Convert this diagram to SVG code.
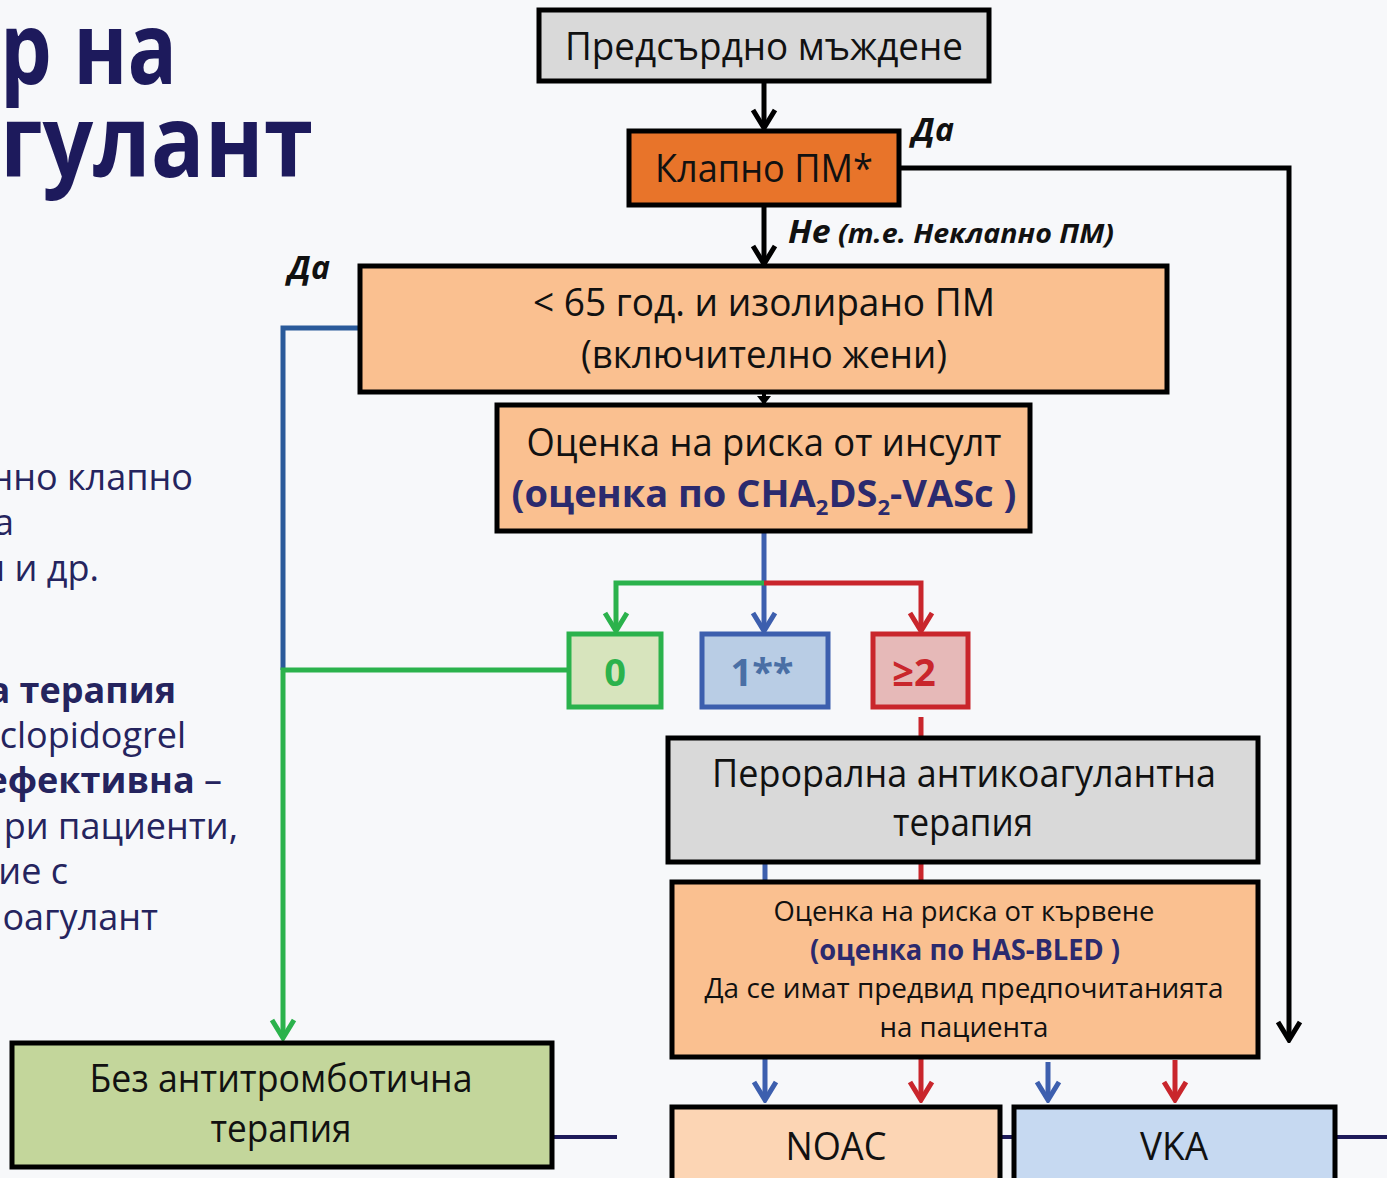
<svg xmlns="http://www.w3.org/2000/svg" width="1387" height="1178" viewBox="0 0 1387 1178">
<style>
.bx{stroke:#000;stroke-width:5}
.t{font-family:"Open Sans","Noto Sans","DejaVu Sans",sans-serif;font-size:38px;fill:#111;text-anchor:middle}
.ts{font-family:"Open Sans","Noto Sans","DejaVu Sans",sans-serif;font-size:28px;fill:#111;text-anchor:middle}
.nv{fill:#2b2a6e;font-weight:bold}
.lbl{font-family:"Open Sans","Noto Sans","DejaVu Sans",sans-serif;font-weight:bold;font-style:italic;fill:#111}
.side{font-family:"Open Sans","Noto Sans","DejaVu Sans",sans-serif;font-size:36px;fill:#25245e;text-anchor:end}
.title{font-family:"Open Sans","Noto Sans","DejaVu Sans",sans-serif;font-size:100px;font-weight:bold;fill:#1d1a5c}
.k{stroke:#000;stroke-width:5;fill:none}
.g{stroke:#2bb24c;stroke-width:5;fill:none}
.b{stroke:#3d5fae;stroke-width:5;fill:none}
.b2{stroke:#2a5a9a;stroke-width:5;fill:none}
.r{stroke:#c9262c;stroke-width:5;fill:none}
.nvl{stroke:#1e1b5a;stroke-width:4;fill:none}
</style>
<defs>
<marker id="ak" markerUnits="userSpaceOnUse" markerWidth="24" markerHeight="28" viewBox="0 0 24 28" refX="21" refY="14" orient="auto"><path d="M3,3 L21,14 L3,25" fill="none" stroke="#000" stroke-width="5"/></marker>
<marker id="ag" markerUnits="userSpaceOnUse" markerWidth="24" markerHeight="28" viewBox="0 0 24 28" refX="21" refY="14" orient="auto"><path d="M3,3 L21,14 L3,25" fill="none" stroke="#2bb24c" stroke-width="5"/></marker>
<marker id="ab" markerUnits="userSpaceOnUse" markerWidth="24" markerHeight="28" viewBox="0 0 24 28" refX="21" refY="14" orient="auto"><path d="M3,3 L21,14 L3,25" fill="none" stroke="#3d5fae" stroke-width="5"/></marker>
<marker id="ar" markerUnits="userSpaceOnUse" markerWidth="24" markerHeight="28" viewBox="0 0 24 28" refX="21" refY="14" orient="auto"><path d="M3,3 L21,14 L3,25" fill="none" stroke="#c9262c" stroke-width="5"/></marker>
</defs>
<rect width="1387" height="1178" fill="#f7f8fa"/>

<g id="side-text">
<text class="title" x="0" y="84" textLength="177" lengthAdjust="spacingAndGlyphs">р на</text>
<text class="title" x="0" y="177" textLength="313" lengthAdjust="spacingAndGlyphs">гулант</text>
<text class="side" x="193" y="490">нно клапно</text>
<text class="side" x="14" y="535">а</text>
<text class="side" x="99" y="581">и и др.</text>
<text class="side" x="176" y="703" font-weight="bold">а терапия</text>
<text class="side" x="186" y="748">clopidogrel</text>
<text class="side" x="222" y="793"><tspan font-weight="bold">ефективна</tspan> –</text>
<text class="side" x="238" y="839">ри пациенти,</text>
<text class="side" x="68" y="884">ие с</text>
<text class="side" x="158" y="930">оагулант</text>
</g>

<g id="connectors">
<path class="k" d="M764,81 V128" marker-end="url(#ak)"/>
<path class="k" d="M899,168 H1289 V1040" marker-end="url(#ak)"/>
<path class="k" d="M764,205 V264" marker-end="url(#ak)"/>
<path d="M764,392 V404" stroke="#000" stroke-width="4"/>
<path d="M757,396 L771,396 L764,405 Z" fill="#000"/>
<path class="b2" d="M360,328 H283 V670"/>
<path class="g" d="M569,670 H283 V1038" marker-end="url(#ag)"/>
<path class="b" d="M764,531 V631" marker-end="url(#ab)"/>
<path class="g" d="M764,583 H616 V631" marker-end="url(#ag)"/>
<path class="r" d="M764,583 H921 V631" marker-end="url(#ar)"/>
<path class="r" d="M921,717 V738"/>
<path class="b" d="M765,862 V882"/>
<path class="r" d="M921,862 V882"/>
<path class="b" d="M765,1057 V1100" marker-end="url(#ab)"/>
<path class="r" d="M921,1057 V1100" marker-end="url(#ar)"/>
<path class="b" d="M1048,1062 V1100" marker-end="url(#ab)"/>
<path class="r" d="M1175,1060 V1100" marker-end="url(#ar)"/>
<path class="nvl" d="M553,1137 H617"/>
<path class="nvl" d="M1000,1137 H1014"/>
<path class="nvl" d="M1335,1137 H1387"/>
</g>

<g id="n-af">
<rect class="bx" x="539" y="10" width="450" height="71" fill="#d9d9d9"/>
<text class="t" x="764" y="60" textLength="398" lengthAdjust="spacingAndGlyphs">Предсърдно мъждене</text>
</g>
<g id="n-valv">
<rect class="bx" x="629" y="131" width="270" height="74" fill="#e8742a"/>
<text class="t" x="764" y="182" textLength="218" lengthAdjust="spacingAndGlyphs">Клапно ПМ*</text>
</g>
<g id="labels">
<text class="lbl" x="912" y="141" font-size="32">Да</text>
<text class="lbl" x="788" y="243" textLength="326" lengthAdjust="spacingAndGlyphs"><tspan font-size="32">Не</tspan><tspan font-size="27"> (т.е. Неклапно ПМ)</tspan></text>
<text class="lbl" x="288" y="279" font-size="32">Да</text>
</g>
<g id="n-65">
<rect class="bx" x="360" y="266" width="807" height="126" fill="#fac090"/>
<text class="t" x="764" y="316" textLength="462" lengthAdjust="spacingAndGlyphs">&lt; 65 год. и изолирано ПМ</text>
<text class="t" x="764" y="368" textLength="366" lengthAdjust="spacingAndGlyphs">(включително жени)</text>
</g>
<g id="n-stroke">
<rect class="bx" x="497" y="405" width="533" height="126" fill="#fac090"/>
<text class="t" x="764" y="456" textLength="475" lengthAdjust="spacingAndGlyphs">Оценка на риска от инсулт</text>
<text class="t nv" x="764" y="507" font-size="34">(оценка по CHA<tspan font-size="22" dy="8">2</tspan><tspan dy="-8">DS</tspan><tspan font-size="22" dy="8">2</tspan><tspan dy="-8">-VASc )</tspan></text>
</g>
<g id="n-0">
<rect x="569" y="634" width="92" height="73" fill="#d7e4bd" stroke="#2bb24c" stroke-width="5"/>
<text class="t" x="615" y="686" style="fill:#2bb24c;font-weight:bold">0</text>
</g>
<g id="n-1">
<rect x="702" y="634" width="126" height="73" fill="#b9cde5" stroke="#3d5fae" stroke-width="5"/>
<text class="t" x="762" y="686" style="fill:#4a6fa5;font-weight:bold">1**</text>
</g>
<g id="n-2">
<rect x="873" y="634" width="95" height="73" fill="#e6b9b8" stroke="#c9262c" stroke-width="5"/>
<text class="t" x="914" y="686" style="fill:#c9262c;font-weight:bold">≥2</text>
</g>
<g id="n-oac">
<rect class="bx" x="668" y="738" width="590" height="124" fill="#d9d9d9"/>
<text class="t" x="964" y="787" textLength="504" lengthAdjust="spacingAndGlyphs">Перорална антикоагулантна</text>
<text class="t" x="963" y="836" textLength="140" lengthAdjust="spacingAndGlyphs">терапия</text>
</g>
<g id="n-bleed">
<rect class="bx" x="672" y="882" width="586" height="175" fill="#fac090"/>
<text class="ts" x="964" y="921" textLength="381" lengthAdjust="spacingAndGlyphs">Оценка на риска от кървене</text>
<text class="ts nv" x="965" y="960" textLength="310" lengthAdjust="spacingAndGlyphs">(оценка по HAS-BLED )</text>
<text class="ts" x="964" y="998" textLength="519" lengthAdjust="spacingAndGlyphs">Да се имат предвид предпочитанията</text>
<text class="ts" x="964" y="1037" textLength="169" lengthAdjust="spacingAndGlyphs">на пациента</text>
</g>
<g id="n-none">
<rect class="bx" x="12" y="1043" width="540" height="124" fill="#c3d69b"/>
<text class="t" x="281" y="1092" textLength="383" lengthAdjust="spacingAndGlyphs">Без антитромботична</text>
<text class="t" x="281" y="1142" textLength="141" lengthAdjust="spacingAndGlyphs">терапия</text>
</g>
<g id="n-noac">
<rect class="bx" x="672" y="1107" width="328" height="90" fill="#fcd5b4"/>
<text class="t" x="836" y="1160" textLength="101" lengthAdjust="spacingAndGlyphs">NOAC</text>
</g>
<g id="n-vka">
<rect class="bx" x="1014" y="1107" width="321" height="90" fill="#c6d9f1"/>
<text class="t" x="1174" y="1160" textLength="68" lengthAdjust="spacingAndGlyphs">VKA</text>
</g>
</svg>
